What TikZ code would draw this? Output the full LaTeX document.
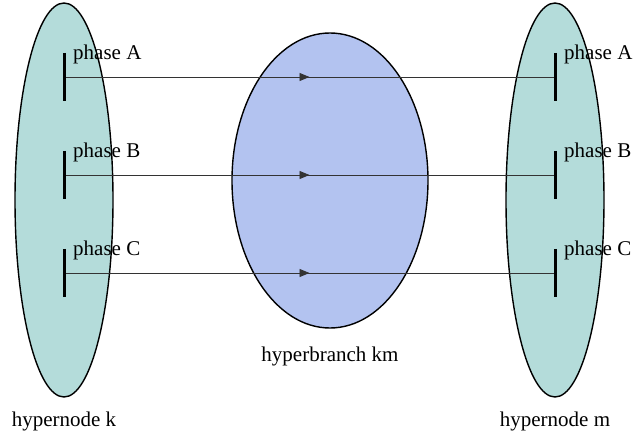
\documentclass[tikz,border=0pt]{standalone}
\usepackage{fontspec}
\setmainfont{Liberation Serif}
\usetikzlibrary{shapes.geometric,arrows.meta,decorations.markings}
\definecolor{teal}{HTML}{B4DCDA}
\definecolor{blu}{HTML}{B3C3F0}
\definecolor{wire}{HTML}{333333}
\tikzset{
  hnode/.style={ellipse, draw=black, line width=1.4pt, fill=teal, minimum width=98pt, minimum height=394pt, inner sep=0pt},
  hbranch/.style={ellipse, draw=black, line width=1.4pt, fill=blu, minimum width=196pt, minimum height=295pt, inner sep=0pt},
  bar/.style={line width=3pt, draw=black},
  wirearrow/.style={draw=wire, line width=0.9pt, postaction={decorate}, decoration={markings, mark=at position 0.5 with {\arrow{Triangle[length=10pt,width=8pt]}}}},
  lbl/.style={font=\fontsize{21}{25}\selectfont, inner sep=0pt},
}
\begin{document}
\begin{tikzpicture}[x=1pt,y=-1pt]
\useasboundingbox (0,0) rectangle (633,433);
\node[hnode] (k) at (64,200) {};
\node[hnode] (m) at (555,200) {};
\node[hbranch] (km) at (330,180.5) {};
\foreach \p/\y in {A/77,B/175,C/273}{
  \coordinate (k\p) at (64,\y);
  \coordinate (m\p) at (555,\y);
  \coordinate (k\p t) at (64,\y-24);
  \coordinate (k\p b) at (64,\y+24);
  \coordinate (m\p t) at (555,\y-24);
  \coordinate (m\p b) at (555,\y+24);
  \draw[wirearrow] (k\p) -- (m\p);
  \draw[bar] (k\p t) -- (k\p b);
  \draw[bar] (m\p t) -- (m\p b);
  \node[lbl, anchor=base west] (lk\p) at (73,\y-17) {phase \p};
  \node[lbl, anchor=base west] (lm\p) at (564,\y-17) {phase \p};
}
\node[lbl, anchor=base] (lk) at (64,427) {hypernode k};
\node[lbl, anchor=base] (lm) at (555,427) {hypernode m};
\node[lbl, anchor=base] (lkm) at (330,362) {hyperbranch km};
\end{tikzpicture}
\end{document}
